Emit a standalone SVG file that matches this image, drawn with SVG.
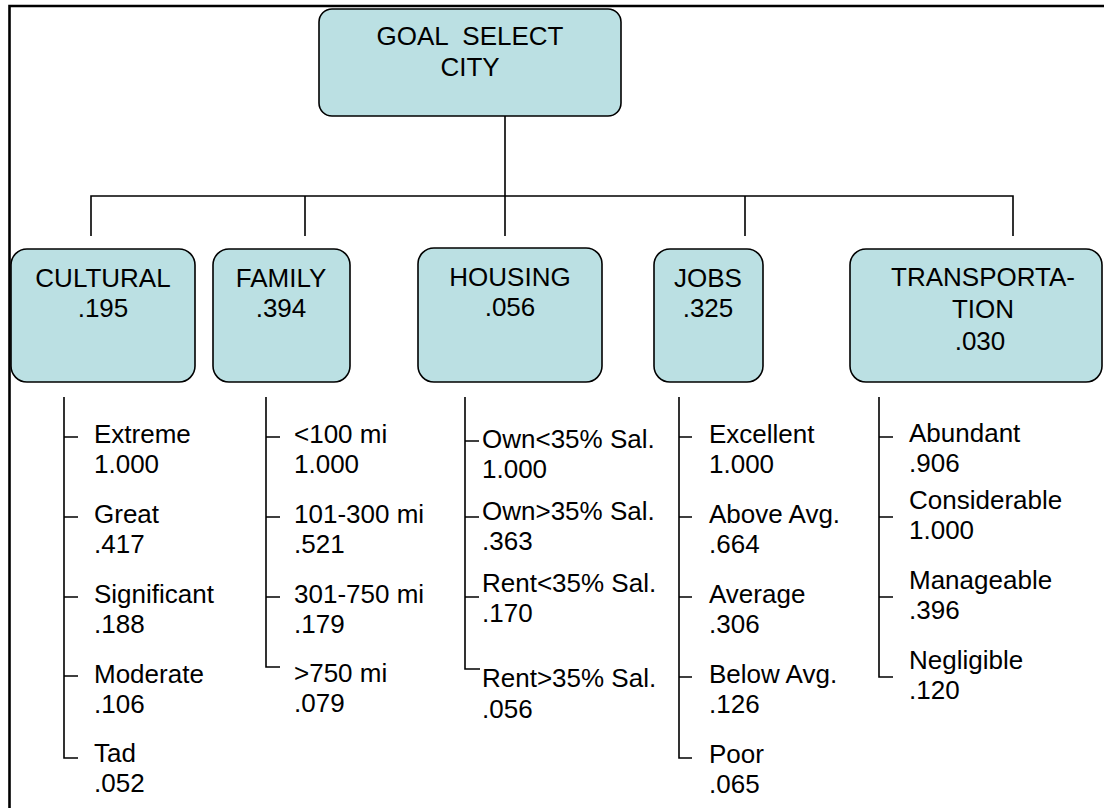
<svg xmlns="http://www.w3.org/2000/svg" width="1104" height="808" viewBox="0 0 1104 808">
<style>
.box{fill:#BBE0E3;stroke:#000;stroke-width:1.6}
.t{font-family:"Liberation Sans",Arial,sans-serif;font-size:26px;fill:#000}
.c{text-anchor:middle}
.ln{fill:none;stroke:#000;stroke-width:1.6}
.frame{fill:none;stroke:#000;stroke-width:2.6}
</style>
<rect width="1104" height="808" fill="#fff"/>
<path class="frame" d="M9.5,808 V6 H1104"/>

<g id="connectors">
<path class="ln" d="M505,116 V236 M91,236 V196 H1013 V236 M305,196 V236 M745,196 V236"/>
<path class="ln" d="M64,397 V758 H78 M64,437 H78 M64,517 H78 M64,597 H78 M64,676 H78"/>
<path class="ln" d="M266,397 V667 H280 M266,437 H280 M266,517 H280 M266,597 H280"/>
<path class="ln" d="M465,397 V669 H480 M465,441 H479 M465,517 H479 M465,597 H479"/>
<path class="ln" d="M679,397 V758 H692 M679,437 H692 M679,517 H692 M679,597 H692 M679,677 H692"/>
<path class="ln" d="M879,397 V677 H893 M879,437 H893 M879,517 H893 M879,597 H893"/>
</g>

<g id="goal">
<rect class="box" x="319" y="9" width="302" height="107" rx="13"/>
<text class="t c" x="470" y="45" xml:space="preserve">GOAL  SELECT</text>
<text class="t c" x="470" y="76">CITY</text>
</g>

<g id="cultural">
<rect class="box" x="11" y="249" width="184" height="133" rx="16"/>
<text class="t c" x="103" y="287">CULTURAL</text>
<text class="t c" x="103" y="317">.195</text>
</g>
<g id="family">
<rect class="box" x="213" y="249" width="137" height="133" rx="16"/>
<text class="t c" x="281" y="287">FAMILY</text>
<text class="t c" x="281" y="317">.394</text>
</g>
<g id="housing">
<rect class="box" x="418" y="248" width="184" height="134" rx="16"/>
<text class="t c" x="510" y="286">HOUSING</text>
<text class="t c" x="510" y="316">.056</text>
</g>
<g id="jobs">
<rect class="box" x="654" y="249" width="109" height="133" rx="16"/>
<text class="t c" x="708" y="287">JOBS</text>
<text class="t c" x="708" y="317">.325</text>
</g>
<g id="transportation">
<rect class="box" x="850" y="249" width="252" height="133" rx="16"/>
<text class="t c" x="983" y="286">TRANSPORTA-</text>
<text class="t c" x="983" y="318">TION</text>
<text class="t c" x="980" y="350">.030</text>
</g>

<g id="cultural-items">
<text class="t" x="94" y="443">Extreme</text><text class="t" x="94" y="473">1.000</text>
<text class="t" x="94" y="523">Great</text><text class="t" x="94" y="553">.417</text>
<text class="t" x="94" y="603">Significant</text><text class="t" x="94" y="633">.188</text>
<text class="t" x="94" y="683">Moderate</text><text class="t" x="94" y="713">.106</text>
<text class="t" x="94" y="762">Tad</text><text class="t" x="94" y="792">.052</text>
</g>
<g id="family-items">
<text class="t" x="294" y="443">&lt;100 mi</text><text class="t" x="294" y="473">1.000</text>
<text class="t" x="294" y="523">101-300 mi</text><text class="t" x="294" y="553">.521</text>
<text class="t" x="294" y="603">301-750 mi</text><text class="t" x="294" y="633">.179</text>
<text class="t" x="294" y="682">&gt;750 mi</text><text class="t" x="294" y="712">.079</text>
</g>
<g id="housing-items">
<text class="t" x="482" y="448">Own&lt;35% Sal.</text><text class="t" x="482" y="478">1.000</text>
<text class="t" x="482" y="520">Own&gt;35% Sal.</text><text class="t" x="482" y="550">.363</text>
<text class="t" x="482" y="592">Rent&lt;35% Sal.</text><text class="t" x="482" y="622">.170</text>
<text class="t" x="482" y="687">Rent&gt;35% Sal.</text><text class="t" x="482" y="718">.056</text>
</g>
<g id="jobs-items">
<text class="t" x="709" y="443">Excellent</text><text class="t" x="709" y="473">1.000</text>
<text class="t" x="709" y="523">Above Avg.</text><text class="t" x="709" y="553">.664</text>
<text class="t" x="709" y="603">Average</text><text class="t" x="709" y="633">.306</text>
<text class="t" x="709" y="683">Below Avg.</text><text class="t" x="709" y="713">.126</text>
<text class="t" x="709" y="763">Poor</text><text class="t" x="709" y="793">.065</text>
</g>
<g id="transportation-items">
<text class="t" x="909" y="442">Abundant</text><text class="t" x="909" y="472">.906</text>
<text class="t" x="909" y="509">Considerable</text><text class="t" x="909" y="539">1.000</text>
<text class="t" x="909" y="589">Manageable</text><text class="t" x="909" y="619">.396</text>
<text class="t" x="909" y="669">Negligible</text><text class="t" x="909" y="699">.120</text>
</g>
</svg>
